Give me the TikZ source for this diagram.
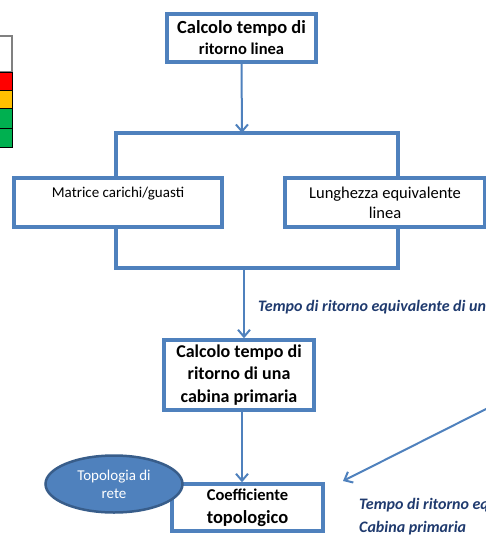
\documentclass[tikz,border=0pt]{standalone}
\usepackage{fontspec}
\setmainfont{Carlito}
\usetikzlibrary{arrows.meta,shapes.geometric}
\definecolor{boxblue}{HTML}{4F81BD}
\definecolor{ellborder}{HTML}{385D8A}
\definecolor{navy}{HTML}{1F3A6E}
\definecolor{legred}{HTML}{FF0000}
\definecolor{legorange}{HTML}{FFC000}
\definecolor{leggreen}{HTML}{00B050}
\tikzset{
    box/.style={draw=boxblue, line width=3.5pt, fill=white, align=center, inner sep=0pt},
    arr/.style={draw=boxblue, line width=2pt, -{Straight Barb[length=7pt,width=12pt]}},
    joinline/.style={draw=boxblue, line width=3.5pt},
    lbl/.style={anchor=base west, inner sep=0pt, text=navy, font=\fontsize{16}{19}\selectfont\bfseries\itshape},
}
\begin{document}
\begin{tikzpicture}[x=1pt,y=-1pt]
    \useasboundingbox (0,0) rectangle (486,536);
    \clip (0,0) rectangle (486,536);
    % legenda
    \draw[draw=gray, line width=1.5pt, fill=white] (-5,36) rectangle (12,72);
    \draw[line width=0.8pt, fill=legred] (-5,72) rectangle (12,90);
    \draw[line width=0.8pt, fill=legorange] (-5,90) rectangle (12,108);
    \draw[line width=0.8pt, fill=leggreen] (-5,108) rectangle (12,128);
    \draw[line width=0.8pt, fill=leggreen] (-5,128) rectangle (12,147);
    % raccordo
    \coordinate (jtop) at (242,133);
    \coordinate (jbot) at (244,268);
    \draw[joinline] (116,133) rectangle (398,268);
    % blocchi
    \node[box, minimum width=149pt, minimum height=48pt, font=\fontsize{18.5}{20}\selectfont\bfseries] (linea) at (241.5,38)
        {Calcolo tempo di\\[1pt]
         {\fontsize{16.5}{17}\selectfont ritorno linea}};
    \node[box, minimum width=208pt, minimum height=49pt, font=\fontsize{15}{20}\selectfont] (matrice) at (118,202.5)
        {Matrice carichi/guasti\hspace{10pt}\\ \mbox{}};
    \node[box, minimum width=200pt, minimum height=49pt, font=\fontsize{16.5}{20}\selectfont] (lungh) at (385,202.5)
        {Lunghezza equivalente\\linea};
    \node[box, minimum width=150pt, minimum height=70pt, font=\fontsize{18}{22.5}\selectfont\bfseries] (cabina) at (239,375)
        {Calcolo tempo di\\ritorno di una\\cabina primaria};
    \node[box, minimum width=151pt, minimum height=47pt, font=\fontsize{16.5}{23}\selectfont\bfseries] (coeff) at (247.5,507.5)
        {Coefficiente\\
         {\fontsize{18.5}{23}\selectfont topologico}};
    \node[ellipse, draw=ellborder, line width=2.5pt, fill=boxblue, minimum width=137pt, minimum height=57pt,
          inner sep=0pt, align=center, text=white, font=\fontsize{15}{18}\selectfont] (topo) at (114,484)
        {Topologia di\\rete};
    % frecce
    \draw[arr] (linea.south) -- (jtop);
    \draw[arr] (jbot) -- (jbot |- cabina.north);
    \draw[arr] ([xshift=3pt]cabina.south) -- ([xshift=3pt]cabina.south |- coeff.north);
    \coordinate (fuori) at (492,406);
    \draw[arr] (fuori) -- (343,481);
    % etichette
    \node[lbl] (tlinea) at (258,311) {Tempo di ritorno equivalente di una};
    \node[lbl] (tcab1) at (359,509) {Tempo di ritorno equivalente};
    \node[lbl] (tcab2) at (359,532) {Cabina primaria};
\end{tikzpicture}
\end{document}
